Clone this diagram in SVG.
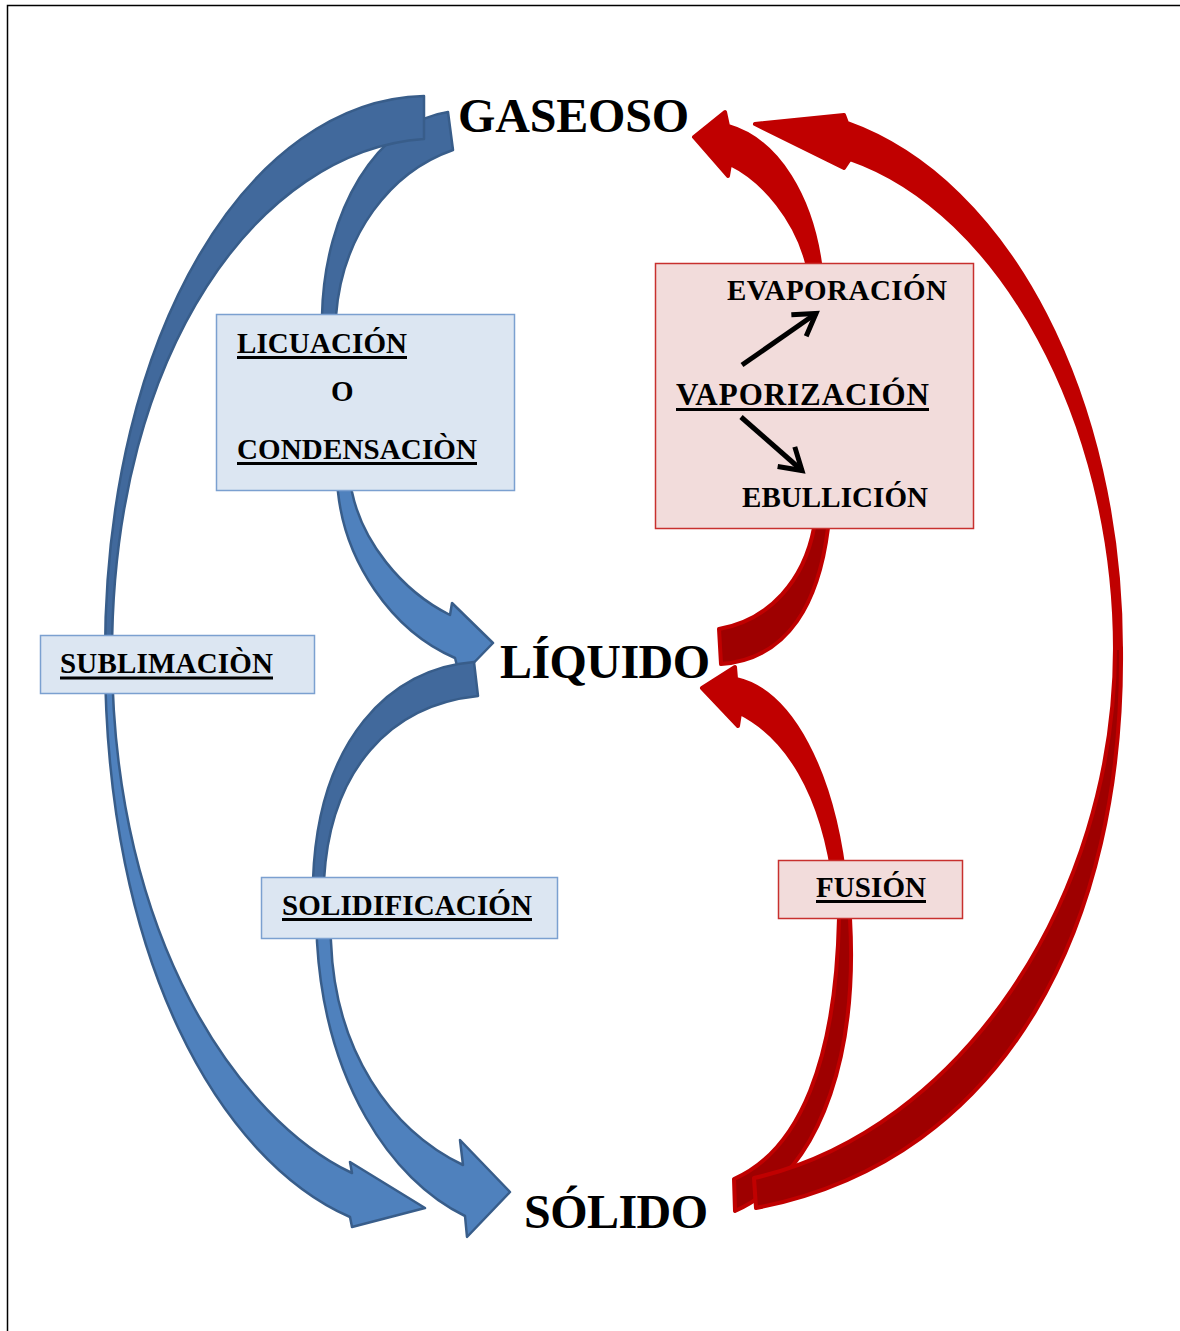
<svg xmlns="http://www.w3.org/2000/svg" width="1180" height="1331" viewBox="0 0 1180 1331">
<defs>
<style>
.bb{fill:#41699c;stroke:#385d8a;stroke-width:2.5;stroke-linejoin:round}
.bf{fill:#4f81bd;stroke:#385d8a;stroke-width:2.5;stroke-linejoin:round}
.rf{fill:#c00000;stroke:#c00000;stroke-width:4;stroke-linejoin:round}
.rb{fill:#9e0000;stroke:#c00000;stroke-width:4;stroke-linejoin:round}
.boxb{fill:#dce6f2;stroke:#7ba0d0;stroke-width:1.5}
.boxr{fill:#f2dcdb;stroke:#c8302e;stroke-width:1.5}
.st{font-family:"Liberation Serif","Times New Roman",serif;font-weight:bold;font-size:48px;fill:#000}
.lb{font-family:"Liberation Serif","Times New Roman",serif;font-weight:bold;font-size:29px;fill:#000}
.ul{stroke:#000;stroke-width:3}
.blk{stroke:#000;stroke-width:5;fill:none;marker-end:url(#head)}
</style>
<marker id="head" markerUnits="userSpaceOnUse" markerWidth="40" markerHeight="40" viewBox="-30 -20 40 40" refX="0" refY="0" orient="auto">
<path d="M -21,-13 L 0,0 L -21,13" fill="none" stroke="#000" stroke-width="5" stroke-linejoin="miter"/>
</marker>
</defs>
<rect x="0" y="0" width="1180" height="1331" fill="#fff"/>
<path d="M 7.5,1331 L 7.5,5.5 L 1180,5.5" fill="none" stroke="#000" stroke-width="1.5"/>

<g id="connectors">
<g id="arrow-licuacion">
<path class="bb" d="M 448,112 C 378,122 324,210 322,316 L 326,402 L 340,402 L 336,316 C 342,235 390,172 453,150 Z"/>
<path class="bf" d="M 326,402 L 338,492 C 345,560 390,630 455,658 L 460,677 L 493,643 L 452,603 L 450,615 C 400,590 362,540 352,492 L 340,402 Z"/>
</g>
<g id="arrow-sublimacion">
<path class="bb" d="M 424,96 C 250,100 105,330 105,655 L 112,655 C 112,350 260,150 424,139 Z"/>
<path class="bf" d="M 105,655 C 105,960 220,1160 350,1217 L 352,1227 L 425,1208 L 350,1162 L 352,1173 C 240,1120 113,940 112,655 Z"/>
</g>
<g id="arrow-solidificacion">
<path class="bb" d="M 474,662 C 390,668 318,740 313,880 L 316,908 L 329,908 L 324,880 C 330,770 390,705 478,696 Z"/>
<path class="bf" d="M 316,908 L 317,942 C 325,1080 390,1180 465,1216 L 467,1237 L 510,1192 L 460,1140 L 463,1165 C 390,1130 335,1050 331,942 L 329,908 Z"/>
</g>
<g id="arrow-vaporizacion">
<path class="rf" d="M 694,137 L 725,112 L 728,126 C 780,141 811,200 820,263 L 826,395 L 814,395 L 807,263 C 796,221 765,181 730,164 L 728,176 Z"/>
<path class="rb" d="M 826,395 L 828,528 C 819,600 790,659 721,664 L 719,629 C 770,620 804,580 814,528 L 814,395 Z"/>
</g>
<g id="arrow-fusion">
<path class="rf" d="M 702,688 L 735,667 L 736,679 C 790,691 834,770 846,889 L 835,889 C 823,790 785,736 740,713 L 738,726 Z"/>
<path class="rb" d="M 846,889 L 850,918 C 857,1040 829,1168 735,1211 L 734,1179 C 800,1150 836,1060 839,918 L 835,889 Z"/>
</g>
<g id="arrow-solido-gas">
<path class="rf" d="M 755,124 L 844,115 L 847,123 C 1010,181 1121,400 1121,650 L 1115,650 C 1115,420 1000,211 850,159 L 844,168 Z"/>
<path class="rb" d="M 1121,648 C 1124,920 1010,1159 756,1208 L 754,1178 C 960,1131 1115,900 1115,648 Z"/>
</g>
</g>

<g id="node-gaseoso"><text class="st" x="458" y="132" textLength="231">GASEOSO</text></g>
<g id="node-liquido"><text class="st" x="500" y="678" textLength="210">LÍQUIDO</text></g>
<g id="node-solido"><text class="st" x="524" y="1228" textLength="184">SÓLIDO</text></g>

<g id="label-licuacion">
<rect class="boxb" x="216.5" y="314.5" width="298" height="176"/>
<text class="lb" x="237" y="353" textLength="170">LICUACIÓN</text>
<line class="ul" x1="237" y1="357.5" x2="407" y2="357.5"/>
<text class="lb" x="331" y="401">O</text>
<text class="lb" x="237" y="459" textLength="240">CONDENSACIÒN</text>
<line class="ul" x1="237" y1="463.5" x2="477" y2="463.5"/>
</g>

<g id="label-sublimacion">
<rect class="boxb" x="40.5" y="635.5" width="274" height="58"/>
<text class="lb" x="60" y="673" textLength="213">SUBLIMACIÒN</text>
<line class="ul" x1="60" y1="678" x2="273" y2="678"/>
</g>

<g id="label-solidificacion">
<rect class="boxb" x="261.5" y="877.5" width="296" height="61"/>
<text class="lb" x="282" y="915" textLength="250">SOLIDIFICACIÓN</text>
<line class="ul" x1="282" y1="919.5" x2="532" y2="919.5"/>
</g>

<g id="label-vaporizacion">
<rect class="boxr" x="655.5" y="263.5" width="318" height="265"/>
<text class="lb" x="727" y="300" textLength="220">EVAPORACIÓN</text>
<text class="lb" x="676" y="405" textLength="253" style="font-size:31px">VAPORIZACIÓN</text>
<line class="ul" x1="676" y1="409.5" x2="929" y2="409.5"/>
<text class="lb" x="742" y="507" textLength="186">EBULLICIÓN</text>
<line class="blk" x1="742" y1="365" x2="816" y2="313.5"/>
<line class="blk" x1="741" y1="417" x2="802" y2="470.5"/>
</g>

<g id="label-fusion">
<rect class="boxr" x="778.5" y="860.5" width="184" height="58"/>
<text class="lb" x="816" y="897" textLength="110">FUSIÓN</text>
<line class="ul" x1="816" y1="901.5" x2="926" y2="901.5"/>
</g>
</svg>
